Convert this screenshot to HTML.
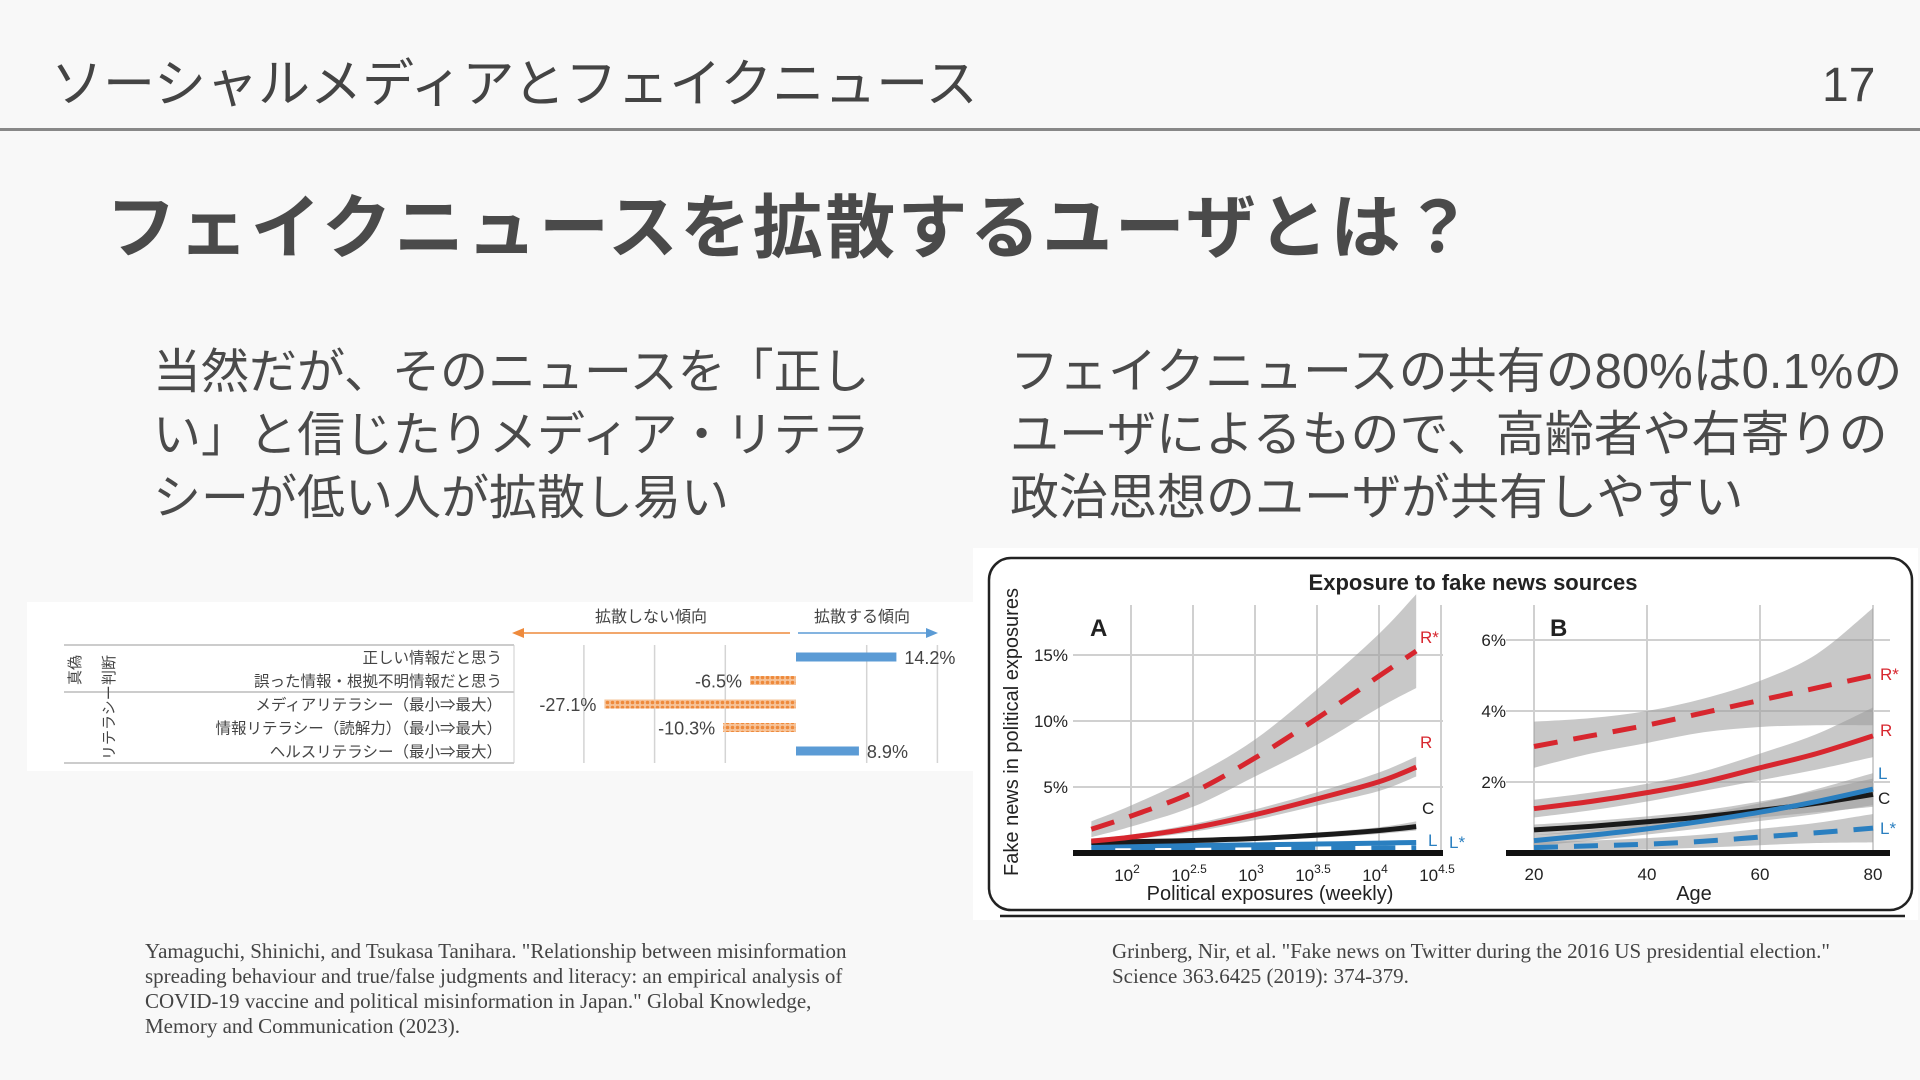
<!DOCTYPE html>
<html><head><meta charset="utf-8">
<style>
body{margin:0;width:1920px;height:1080px;background:#f8f8f8;overflow:hidden;position:relative;font-family:"Liberation Sans","Noto Sans CJK JP",sans-serif;color:#444}
.abs{position:absolute;white-space:nowrap}
.cite{font-family:"Liberation Serif","Noto Serif CJK SC",serif;font-size:21px;line-height:25px;color:#444}
.para{font-size:48px;line-height:63px;color:#4a4a4a}
</style></head><body>
<div class="abs" style="left:51px;top:54px;font-size:52px;line-height:62px;color:#444">ソーシャルメディアとフェイクニュース</div>
<div class="abs" style="left:1822px;top:56px;font-size:48px;line-height:60px;color:#444">17</div>
<div class="abs" style="left:0;top:128px;width:1920px;height:3px;background:#888"></div>
<div class="abs" style="left:106px;top:186px;font-size:70px;line-height:84px;font-weight:bold;color:#4a4a4a;letter-spacing:2.4px">フェイクニュースを拡散するユーザとは？</div>
<div class="abs para" style="left:153px;top:341px">当然だが、そのニュースを「正し<br>い」と信じたりメディア・リテラ<br>シーが低い人が拡散し易い</div>
<div class="abs para" style="left:1010px;top:341px;font-size:49px">フェイクニュースの共有の80%は0.1%の<br>ユーザによるもので、高齢者や右寄りの<br>政治思想のユーザが共有しやすい</div>
<div class="abs cite" style="left:145px;top:939px">Yamaguchi, Shinichi, and Tsukasa Tanihara. "Relationship between misinformation<br>spreading behaviour and true/false judgments and literacy: an empirical analysis of<br>COVID-19 vaccine and political misinformation in Japan." Global Knowledge,<br>Memory and Communication (2023).</div>
<div class="abs cite" style="left:1112px;top:939px">Grinberg, Nir, et al. "Fake news on Twitter during the 2016 US presidential election."<br>Science 363.6425 (2019): 374-379.</div>

<svg id="charts" width="1920" height="1080" style="position:absolute;left:0;top:0" xmlns="http://www.w3.org/2000/svg" font-family="Liberation Sans, Noto Sans CJK JP, sans-serif">
<defs>
<pattern id="hatch" width="5" height="5" patternUnits="userSpaceOnUse"><rect width="5" height="5" fill="#f6c49a"/><circle cx="2.5" cy="2.5" r="1.8" fill="#ee8a3c"/></pattern>
</defs>
<g id="barchart"></g>
<g id="linechart"></g>
</svg>

<script>
// ---- bar chart data ----
const barCategories = ["正しい情報だと思う","誤った情報・根拠不明情報だと思う","メディアリテラシー（最小⇒最大）","情報リテラシー（読解力）（最小⇒最大）","ヘルスリテラシー（最小⇒最大）"];
const barValues = [14.2, -6.5, -27.1, -10.3, 8.9];
const barLabels = ["14.2%","-6.5%","-27.1%","-10.3%","8.9%"];
const barGrid = [-30,-20,-10,0,10,20];

// ---- line chart data: panel A (x = log10 weekly exposures) ----
const aX = [1.68, 2.0, 2.5, 3.0, 3.5, 4.0, 4.3];
const aRstar = [1.8, 2.8, 4.6, 7.2, 10.2, 13.4, 15.3];
const aRstarHi = [2.4, 3.6, 5.8, 8.6, 12.4, 16.6, 19.6];
const aRstarLo = [1.2, 2.0, 3.5, 5.8, 8.2, 11.0, 12.5];
const aR = [0.9, 1.2, 1.9, 2.9, 4.1, 5.4, 6.5];
const aRHi = [1.1, 1.4, 2.2, 3.3, 4.6, 6.1, 7.3];
const aRLo = [0.7, 1.0, 1.6, 2.5, 3.6, 4.7, 5.8];
const aC = [0.8, 0.85, 0.95, 1.1, 1.35, 1.7, 2.0];
const aCHi = [0.9, 0.95, 1.05, 1.25, 1.55, 1.95, 2.4];
const aCLo = [0.7, 0.75, 0.85, 0.95, 1.15, 1.45, 1.7];
const aL = [0.55, 0.55, 0.58, 0.62, 0.68, 0.75, 0.8];
const aLstar = [0.25, 0.25, 0.27, 0.3, 0.33, 0.37, 0.4];
const aTicks = [2, 2.5, 3, 3.5, 4, 4.5];
const aTickExp = ["2","2.5","3","3.5","4","4.5"];
const aYTicks = [5, 10, 15];

// ---- panel B (x = age) ----
const bX = [20, 30, 40, 50, 60, 70, 80];
const bRstar = [3.0, 3.3, 3.6, 3.95, 4.3, 4.65, 5.0];
const bRstarHi = [3.7, 3.8, 4.0, 4.35, 4.85, 5.6, 6.9];
const bRstarLo = [2.4, 2.8, 3.1, 3.4, 3.55, 3.6, 3.6];
const bR = [1.25, 1.45, 1.7, 2.0, 2.4, 2.8, 3.3];
const bRHi = [1.5, 1.7, 1.95, 2.3, 2.8, 3.35, 4.1];
const bRLo = [1.0, 1.2, 1.45, 1.75, 2.05, 2.35, 2.7];
const bC = [0.65, 0.75, 0.88, 1.02, 1.2, 1.4, 1.65];
const bCHi = [0.8, 0.9, 1.03, 1.2, 1.45, 1.75, 2.1];
const bCLo = [0.5, 0.6, 0.72, 0.85, 1.0, 1.15, 1.3];
const bL = [0.35, 0.5, 0.68, 0.9, 1.15, 1.45, 1.8];
const bLHi = [0.5, 0.65, 0.85, 1.1, 1.4, 1.8, 2.25];
const bLLo = [0.2, 0.35, 0.52, 0.7, 0.9, 1.1, 1.35];
const bLstar = [0.15, 0.2, 0.25, 0.33, 0.45, 0.57, 0.7];
const bLstarHi = [0.3, 0.35, 0.42, 0.52, 0.68, 0.85, 1.1];
const bLstarLo = [0.0, 0.05, 0.1, 0.15, 0.22, 0.28, 0.3];
const bTicks = [20, 40, 60, 80];
const bYTicks = [2, 4, 6];

const NS = "http://www.w3.org/2000/svg";
function mk(parent, tag, attrs, text){
  const e = document.createElementNS(NS, tag);
  for (const k in attrs) e.setAttribute(k, attrs[k]);
  if (text !== undefined) e.textContent = text;
  parent.appendChild(e);
  return e;
}

// ===== Bar chart =====
const bc = document.getElementById('barchart');
const bgRect = mk(bc,'rect',{x:27,y:602,width:946,height:169,fill:'#ffffff'});


const xb = v => 796 + v * 7.07;
const rowY = i => 657 + i * 23.5;
barGrid.forEach(g => {
  if (g === 0) return;
  const l = mk(bc,'line',{x1:xb(g),x2:xb(g),y1:645,y2:763,stroke:'#d4d4d4','stroke-width':1.5});
  
  
});
[[645,'#bbb'],[692,'#bbb'],[763,'#bbb']].forEach(([y,c])=>{
  const l = mk(bc,'line',{x1:64,x2:514,y1:y,y2:y,stroke:c,'stroke-width':1.5});
  
  
});
const zl = mk(bc,'line',{x1:514,x2:514,y1:645,y2:763,stroke:'#ccc','stroke-width':1});


const ao = mk(bc,'line',{x1:790,x2:520,y1:633,y2:633,stroke:'#ee8a3c','stroke-width':1.5});


const aoh = mk(bc,'polygon',{points:'512,633 524,628 524,638',fill:'#ee8a3c'});


const ab = mk(bc,'line',{x1:798,x2:930,y1:633,y2:633,stroke:'#5b9bd5','stroke-width':1.5});


const abh = mk(bc,'polygon',{points:'938,633 926,628 926,638',fill:'#5b9bd5'});


const t1 = mk(bc,'text',{x:651,y:622,'font-size':16,'text-anchor':'middle',fill:'#444'},'拡散しない傾向');


const t2 = mk(bc,'text',{x:862,y:622,'font-size':16,'text-anchor':'middle',fill:'#444'},'拡散する傾向');


const g1 = mk(bc,'text',{x:0,y:0,'font-size':15,fill:'#444',transform:'translate(80,685) rotate(-90)'},'真偽');


const g2 = mk(bc,'text',{x:0,y:0,'font-size':15,fill:'#444',transform:'translate(114,685) rotate(-90)'},'判断');


const g3 = mk(bc,'text',{x:0,y:0,'font-size':15,fill:'#444',transform:'translate(114,760) rotate(-90)'},'リテラシー');


barCategories.forEach((c,i)=>{
  const y = rowY(i);
  const lab = mk(bc,'text',{x:502,y:y+6,'font-size':15.5,'text-anchor':'end',fill:'#444'},c);
  
  
  const v = barValues[i];
  const x0 = Math.min(xb(0), xb(v)), w = Math.abs(xb(v)-xb(0));
  const r = mk(bc,'rect',{x:x0,y:y-4.5,width:w,height:9,fill: v>=0 ? '#5b9bd5' : 'url(#hatch)'});
  
  
  const tv = mk(bc,'text',{x: v>=0 ? xb(v)+8 : xb(v)-8, y:y+7,'font-size':18,'text-anchor': v>=0?'start':'end',fill:'#444'},barLabels[i]);
  
  
});

// ===== Line chart =====
const lc = document.getElementById('linechart');
const lbg = mk(lc,'rect',{x:973,y:548,width:945,height:372,fill:'#ffffff'});


const frame = mk(lc,'rect',{x:989,y:558,width:923,height:352,rx:22,fill:'none',stroke:'#222','stroke-width':2.5});


const under = mk(lc,'line',{x1:1000,x2:1905,y1:916,y2:916,stroke:'#222','stroke-width':2.5});


const title = mk(lc,'text',{x:1473,y:590,'font-size':22,'font-weight':'bold','text-anchor':'middle',fill:'#222'},'Exposure to fake news sources');


const yt = mk(lc,'text',{x:0,y:0,'font-size':20,'text-anchor':'middle',fill:'#222',transform:'translate(1018,732) rotate(-90)'},'Fake news in political exposures');



const xA = v => 1131 + (v-2)*124;
const yA = v => 853 - v*13.2;
const xB = v => 1534 + (v-20)*5.65;
const yB = v => 853 - v*35.5;

function smooth(xs, ys){
  const p = xs.map((x,i)=>[x,ys[i]]);
  let d = 'M'+p[0][0]+','+p[0][1];
  for (let i=0;i<p.length-1;i++){
    const p0=p[Math.max(0,i-1)],p1=p[i],p2=p[i+1],p3=p[Math.min(p.length-1,i+2)];
    const c1=[p1[0]+(p2[0]-p0[0])/6,p1[1]+(p2[1]-p0[1])/6];
    const c2=[p2[0]-(p3[0]-p1[0])/6,p2[1]-(p3[1]-p1[1])/6];
    d+=' C'+c1[0]+','+c1[1]+' '+c2[0]+','+c2[1]+' '+p2[0]+','+p2[1];
  }
  return d;
}
function band(xs, hi, lo, sx, sy, name){
  const top = smooth(xs.map(sx), hi.map(sy));
  const botPts = xs.map(sx).reverse(), botY = lo.map(sy).reverse();
  const bot = smooth(botPts, botY).replace(/^M/,' L');
  const p = mk(lc,'path',{d: top + bot + ' Z', fill:'#9a9a9a','fill-opacity':0.55});
  
  
}
function line(xs, ys, sx, sy, color, dash, name){
  const p = mk(lc,'path',{d: smooth(xs.map(sx), ys.map(sy)), fill:'none', stroke:color,'stroke-width':5, 'stroke-dasharray': dash || 'none'});
  
  
}
function lbl(x,y,t,c,name){
  const e = mk(lc,'text',{x:x,y:y,'font-size':17,fill:c},t);
  
  
}

aTicks.forEach((t,i)=>{
  const g = mk(lc,'line',{x1:xA(t),x2:xA(t),y1:605,y2:853,stroke:'#d0d0d0','stroke-width':2});
  
  
  const tx = mk(lc,'text',{x:xA(t)-4,y:881,'font-size':17,'text-anchor':'middle',fill:'#222'});
  
  
  mk(tx,'tspan',{},'10');
  mk(tx,'tspan',{dy:-8,'font-size':12},aTickExp[i]);
});
aYTicks.forEach(t=>{
  const g = mk(lc,'line',{x1:1073,x2:1443,y1:yA(t),y2:yA(t),stroke:'#d0d0d0','stroke-width':2});
  
  
  const tx = mk(lc,'text',{x:1068,y:yA(t)+6,'font-size':17,'text-anchor':'end',fill:'#222'},t+'%');
  
  
});
band(aX,aRstarHi,aRstarLo,xA,yA,'panel-a-rstar-band');
band(aX,aRHi,aRLo,xA,yA,'panel-a-r-band');
band(aX,aCHi,aCLo,xA,yA,'panel-a-c-band');
line(aX,aLstar,xA,yA,'#2a7fc0','24,16','panel-a-lstar-line');
line(aX,aL,xA,yA,'#2a7fc0',null,'panel-a-l-line');
line(aX,aC,xA,yA,'#1a1a1a',null,'panel-a-c-line');
line(aX,aR,xA,yA,'#d7262e',null,'panel-a-r-line');
line(aX,aRstar,xA,yA,'#d7262e','24,16','panel-a-rstar-line');
const baseA = mk(lc,'line',{x1:1073,x2:1443,y1:853,y2:853,stroke:'#111','stroke-width':6});


lbl(1420,643,'R*','#d7262e','panel-a-label-rstar');
lbl(1420,748,'R','#d7262e','panel-a-label-r');
lbl(1422,814,'C','#222','panel-a-label-c');
lbl(1428,846,'L','#2a7fc0','panel-a-label-l');
lbl(1449,848,'L*','#2a7fc0','panel-a-label-lstar');
const pa = mk(lc,'text',{x:1090,y:636,'font-size':24,'font-weight':'bold',fill:'#222'},'A');


const xta = mk(lc,'text',{x:1270,y:900,'font-size':20,'text-anchor':'middle',fill:'#222'},'Political exposures (weekly)');



bTicks.forEach(t=>{
  const g = mk(lc,'line',{x1:xB(t),x2:xB(t),y1:605,y2:853,stroke:'#d0d0d0','stroke-width':2});
  
  
  const tx = mk(lc,'text',{x:xB(t),y:880,'font-size':17,'text-anchor':'middle',fill:'#222'},String(t));
  
  
});
bYTicks.forEach(t=>{
  const g = mk(lc,'line',{x1:1506,x2:1890,y1:yB(t),y2:yB(t),stroke:'#d0d0d0','stroke-width':2});
  
  
  const tx = mk(lc,'text',{x:1506,y:yB(t)+6,'font-size':17,'text-anchor':'end',fill:'#222'},t+'%');
  
  
});
band(bX,bRstarHi,bRstarLo,xB,yB,'panel-b-rstar-band');
band(bX,bRHi,bRLo,xB,yB,'panel-b-r-band');
band(bX,bCHi,bCLo,xB,yB,'panel-b-c-band');
band(bX,bLHi,bLLo,xB,yB,'panel-b-l-band');
band(bX,bLstarHi,bLstarLo,xB,yB,'panel-b-lstar-band');
line(bX,bLstar,xB,yB,'#2a7fc0','24,16','panel-b-lstar-line');
line(bX,bC,xB,yB,'#1a1a1a',null,'panel-b-c-line');
line(bX,bL,xB,yB,'#2a7fc0',null,'panel-b-l-line');
line(bX,bR,xB,yB,'#d7262e',null,'panel-b-r-line');
line(bX,bRstar,xB,yB,'#d7262e','24,16','panel-b-rstar-line');
const baseB = mk(lc,'line',{x1:1506,x2:1890,y1:853,y2:853,stroke:'#111','stroke-width':6});


lbl(1880,680,'R*','#d7262e','panel-b-label-rstar');
lbl(1880,736,'R','#d7262e','panel-b-label-r');
lbl(1878,779,'L','#2a7fc0','panel-b-label-l');
lbl(1878,804,'C','#222','panel-b-label-c');
lbl(1880,834,'L*','#2a7fc0','panel-b-label-lstar');
const pb = mk(lc,'text',{x:1550,y:636,'font-size':24,'font-weight':'bold',fill:'#222'},'B');


const xtb = mk(lc,'text',{x:1694,y:900,'font-size':20,'text-anchor':'middle',fill:'#222'},'Age');


</script>
</body></html>
